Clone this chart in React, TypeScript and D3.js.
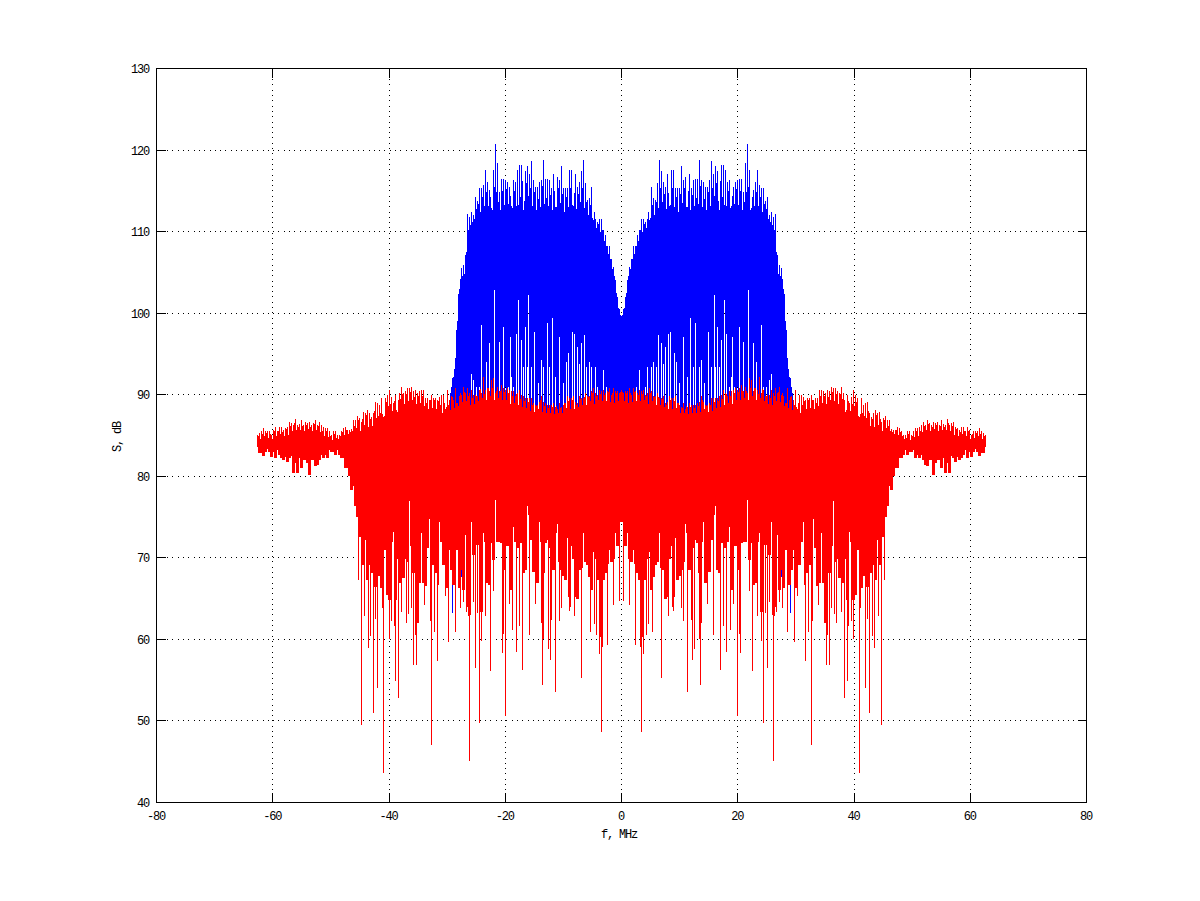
import React from "react";
import * as d3 from "d3";

const W = 1200;
const H = 901;
const xTicks = [-80, -60, -40, -20, 0, 20, 40, 60, 80];
const yTicks = [40, 50, 60, 70, 80, 90, 100, 110, 120, 130];

// Spectrum is mirror-symmetric about 0 MHz: values are read for the negative-frequency side.
const redStartMHz = -62.7;
const redTop = [
  85.05,85.35,85.5,85.9,85.6,85.6,85.6,85.05,85.7,86.1,85.6,86.1,86.1,85.7,85.9,86.1,86.6,86.5,86.3,87,86.3,86.4,86.9,86.3,86.7,86.5,86.7,86.3,86.5,86.9,86.3,86.7,86.3,86.1,85.9,85.9,85.6,85.05,85.5,85.5,85.05,85.05,85.5,85.9,86.1,85.7,85.7,85.8,86.9,86.9,87.4,87.1,86.7,87.9,87.7,88.1,87.7,87.3,87.7,89.15,88.95,88.75,89.55,87.3,89.55,90,90.6,89.75,88.95,90,87.9,90.15,91,90.15,90.4,90.8,90.8,91,90.4,90.6,90.15,90.4,90.6,90.6,89.55,89.55,89.35,90,89.55,89.55,89.35,89.75,
  90,90,88.3,90.6,89.35,89.8,89.35,90.8,88.95,89.8,90,91,90.2,90.8,90.2,90.6,90,90,89.8,90.6,90.2,92.2,90.6,90.8,90.4,91.8,92,90.2,91,90.4,91.2,90.8,90.6,90.8,90.6,90.4,90.4,89.8,90.2,90.6,90,89.8,89.6,89.6,89.6,89.6,88.95,88.7,88.7,89.15,89.8,89.15,88.95,88.7,88.7,88.7,88.95,88.5,88.3,88.95,88.5,88.7,88.95,89.8,89.6,89.6,89.8,89.15,88.95,89.8,89.6,89.6,90.2,89.8,89.8,90.4,90.8,90.2,90,90.6,90.4,90.6,90.2,90.4,90.8,90,90.8,90.4,90.4,90.2,90.6,
];
// Red peaks of the columns lying between the entries of redTop
const redTopBetween = [
  84.9,84.6,85.2,84.9,85.3,84.7,85.2,84.6,85.5,84.9,85.6,85.2,85.4,84.9,85.8,85.1,86.2,85.6,86.5,85.7,86.1,85.7,86.2,85.6,86.3,85.8,86,85.5,86.4,85.7,86.2,85.4,85.6,85,85.5,84.8,85,84.5,85.2,84.7,84.6,84.9,85.4,85.1,85.7,85.2,85.4,85.6,86.2,85.9,86.9,85.5,87,86.3,87.5,86.1,87,86.2,88,87.2,87.4,87.7,87.6,87.4,89.1,88.6,88.9,88,89.2,88.1,89.4,89.5,90.1,88.9,90.1,89.2,90.3,89.4,89.7,88.9,89.8,89,89.9,88.6,89,88.2,89.4,88.4,89.3,88.3,89.2,
  88.7,87.8,89,88.5,88.8,88.1,89.7,88.4,89,88.6,90.2,89.1,90.3,89.2,89.9,88.8,89.6,88.9,89.9,89.2,90.7,89.6,90.1,89.3,90.8,89.9,90.8,89.4,90.4,89.6,90.5,89.4,90.3,89.3,90.2,88.9,89.8,89,90.1,88.8,89.5,88.5,89.2,88.4,89.1,88,88.7,87.9,88.6,88.3,89.3,87.9,88.6,87.7,88.4,87.8,88.5,87.6,88.6,87.7,88.4,87.8,89,88.4,89.2,88.3,89.4,88.2,88.7,88.5,89.5,88.8,89.7,88.7,89.7,89.2,90.2,88.9,89.9,89.3,90.1,89.2,90,89.2,90.3,89.1,90.2,89,90.2,89.2,90.3,
];
const redLow = [
  83.6,82.8,82.9,82.5,83,83.3,83,82.4,83,82.3,83.2,82.6,82.2,82,82.4,81.8,82.3,82.5,80.45,81.6,80.45,82.2,81,82,82,81.6,80.15,82,82,81.2,81.4,82,82.6,82.2,82.6,82.2,83.2,83,83,82.6,83.2,82.6,82.2,82.2,81,81,80,78.3,78.75,
  76.3,75.05,72.6,74.8,69.1,72.2,67.3,69.1,68.1,75.25,66.4,69.5,67.8,66.25,73.6,70.95,65.4,64.85,72,73.2,64.85,69.9,66.9,72.4,67.5,69.9,69.5,77,71.4,68.1,74.2,62,66.9,73,66.9,66.5,71.15,74.8,70.15,69.1,68.1,73.8,74.4,72,69.1,71.8,66.25,70.95,68.5,66.7,73.2,70.95,66.25,68.5,66,72.8,64,63,74.4,70.35,71.6,74.4,71.6,63.4,73,72,66.9,66.7,71.8,69.7,77.1,72,72,71.8,68.5,71.8,71.4,73.8,66,73.8,72,71.15,71.8,71.8,68.1,68.5,76.4,75.25,72.2,68.3,70.75,66.9,74.4,72,68.1,71.8,72.2,71.15,72.8,68.5,73,74.2,69.5,68.5,67.8,67.3,72.4,64,71.4,69.9,65.2,65,68.5,68.7,73,69.5,69.1,67.7,66,70.75,69.9,67.3,73,60.3,67.3,68.1,69.3,70.95,69.5,69.9,73,71.4,74.4,74.4,
];
// Deep single-sample nulls of the red trace: [|f| MHz, dB]
const redNulls: [number, number][] = [
  [45.3,67.3],[44.8,49.5],[44.15,62.9],[43.6,59],[43.2,60.4],[42.7,51],[42.3,62.5],[41.9,54.1],[41.2,63.9],[41,43.65],[40.5,65.4],[40,60.1],[39.6,62.2],[39,61.6],[38.8,54.9],[38.4,52.85],[37.9,63.4],[37,62.05],[36.7,63.1],[36.2,63.9],[35.8,56.8],[35.5,60.5],[35.3,56.8],[33.9,64.2],[32.9,62.2],[32.7,47.05],[32.2,60.95],[31.7,57.35],[31.4,66.7],[30.2,65.3],[29.8,59.7],[28.6,60.95],[27.75,63.9],[27.2,64.6],[26.7,63.3],[26.4,62.9],[26.2,45.1],[25.5,64.6],[25.2,56.5],[24.8,63.2],[24.5,49.8],[24.1,59.8],[23.45,62.9],[22.6,56.1],[22.1,65.9],[20.5,58.3],[20.35,60.7],[20,50.65],[19.3,64.3],[18.8,61.15],[18.1,58.4],[17.6,61.6],[17.1,56.25],[15.9,60.5],[14.85,64.4],[13.8,62],[13.65,54.4],[13.5,60.1],[12.6,58.8],[12.3,57.5],[12.1,62.4],[11.4,53.6],[10.7,62.3],[10.4,63.9],[9.2,65.15],[9,63.5],[8.15,62.9],[6.95,55.3],[5.4,60.95],[4.7,61.85],[4.35,60.5],[3.85,58.2],[3.5,48.7],[3.3,59.1],[2.45,59.3],[1.4,64.2],[0.4,64.75],
];

const blueStartMHz = -29.5;
const blueTop = [
  90.2,92,93.2,97.9,102.4,105.3,105.5,105.9,107.1,112.2,111.8,112.4,112,114.3,114.7,115.3,115.3,115.7,117.6,116.1,115.1,115.3,117.6,120.8,118.4,114.9,116.5,116.5,116.3,116.1,115.5,116.3,116.3,116.1,117.6,118.2,118.2,118.4,117.4,118,117.1,118.6,116.3,115.5,115.5,116.1,116.3,118.8,116.5,116.5,116.3,115.3,117.1,115.5,116.7,116.3,118,115.3,115.3,115.3,117.6,117.6,115.5,117.1,115.5,116.1,117.4,118.8,115.9,113.9,114.1,115.5,114.1,111.6,111.2,111.6,111.6,110.2,109.6,108.2,108.2,106.7,105.7,104.1,102,100.5,99.6,
];
// Blue peaks of the columns lying between the entries of blueTop
const blueTopBetween = [
  91,92.2,94.5,99,103,104.2,104.6,104.8,107.5,110.2,110.8,111.2,111.5,112.8,113.4,112.4,114.3,113.2,114.9,113.1,114.2,112.7,115.5,114.8,113.6,112.6,115,113.3,115.2,113.4,114.4,112.9,115,113.2,115.8,114.2,116.2,113.7,116,114.4,115.4,113.1,114.8,112.7,114.6,113,115.6,113.4,115.2,113.2,114.5,112.6,115,113,115.3,113.5,114.6,112.4,114.2,113,115.4,113.3,114.7,112.8,114.6,113.6,115.4,112.9,113.6,112,113.3,111.7,112.4,110.4,110.9,110,110.2,108.9,108.2,107.2,106.6,105.4,104.6,102.5,100.6,99.8,
];
const blueFloor = 78;
// Columns where the blue trace never comes down to the floor: [|f| MHz, lowest dB]
const blueGaps: [number, number][] = [
  [25.83,92.6],[25.5,91.8],[24.1,98.6],[23.25,94.05],[22.7,96.3],[21.9,102.8],[21,96.5],[20.3,98.35],[19.1,97.1],[18.95,92.2],[18.1,97.5],[17.75,101.6],[17.2,96.7],[16.55,98.35],[16,102.2],[15,97.7],[13.8,94.25],[12.75,98.75],[11.9,99.4],[10.7,97.1],[9.5,94.05],[9.15,95.1],[8.45,97.7],[8.1,97.5],[7.6,95.9],[6.9,96.3],[6.4,97.3],[5.5,94.05],[4.5,93.45],[3.1,93],
  [24.9,91],[24.45,91],[20,91],[19.45,91],[18.6,91],[16.9,93.4],[16.2,93.4],[15.45,93.4],[14.3,91.4],[13.45,93.4],[12.4,93.4],[11.4,92.2],[10,91.4],[8.8,92.6],[7.25,93.8],[6.05,93.4],[5.2,93.4],[4.15,91],[2.55,91],
];
// Columns whose blue peak falls short: [|f| MHz, highest dB]
const blueNotches: [number, number][] = [
  [22.4,112.9],[24.8,113.7],[19,113.1],[17.75,113.3],[16.9,112.7],[14.3,114],[12.85,114.1],[11.4,113],[8.3,113.1],[4.9,111.4],
];
// Blue samples that reach below the red body: [|f| MHz, lowest dB]
const blueBelow: [number, number][] = [[29.1,63.2],[27.6,67.6],[8.8,67.9]];

const x = d3.scaleLinear().domain([-80, 80]).range([156.5, 1086.5]);
const y = d3.scaleLinear().domain([40, 130]).range([802.5, 68.5]);
const centerPx = Math.floor(x(0));

const distance = (f: number) => centerPx - Math.floor(x(-Math.abs(f)));
const toMap = (rows: [number, number][]) => new Map(rows.map(([f, v]) => [distance(f), v]));

type Pick = (d: number, i: number, between: boolean) => number;

function columns(startMHz: number, count: number, lows: Pick, top: Pick) {
  const path = d3.path();
  const step = -startMHz / (count - 1);
  const maxD = distance(startMHz);
  for (let d = 0; d <= maxD; d++) {
    const f = x.invert(centerPx + 0.5 - d);
    const half = Math.max(0, Math.min((count - 1) * 2, Math.round(((f - startMHz) / step) * 2)));
    const i = Math.floor(half / 2);
    const between = half % 2 === 1;
    const hi = y(top(d, i, between));
    const lo = y(lows(d, i, between));
    for (const px of d === 0 ? [centerPx] : [centerPx - d, centerPx + d]) {
      path.moveTo(px + 0.5, hi);
      path.lineTo(px + 0.5, lo);
    }
  }
  return path.toString();
}

const redNullMap = toMap(redNulls);
const gapMap = toMap(blueGaps);
const notchMap = toMap(blueNotches);
const belowMap = toMap(blueBelow);

const lowAt = (i: number) => redLow[Math.min(i, redLow.length - 1)];
const redPath = columns(
  redStartMHz,
  redTop.length,
  (d, i, between) =>
    redNullMap.get(d) ?? (between ? Math.min(lowAt(i), lowAt(i + 1)) : lowAt(i)),
  (_d, i, between) => (between ? redTopBetween[i] ?? redTop[i] : redTop[i])
);
const bluePath = columns(
  blueStartMHz,
  blueTop.length,
  (d) => belowMap.get(d) ?? gapMap.get(d) ?? blueFloor,
  (d, i, between) =>
    notchMap.get(d) ?? (between ? blueTopBetween[i] ?? blueTop[i] : blueTop[i])
);

const font = "'Liberation Mono', monospace";

export default function App() {
  const [x0, x1] = x.range();
  const [y0, y1] = y.range();
  return (
    <svg
      width={W}
      height={H}
      viewBox={`0 0 ${W} ${H}`}
      style={{ position: "absolute", left: 0, top: 0, background: "#fff" }}
    >
      <g stroke="#000" strokeWidth={1} strokeDasharray="1 4.3" shapeRendering="crispEdges">
        {xTicks.slice(1, -1).map((t) => (
          <line key={t} x1={x(t)} x2={x(t)} y1={y1} y2={y0} />
        ))}
        {yTicks.slice(1, -1).map((t) => (
          <line key={t} x1={x0} x2={x1} y1={y(t)} y2={y(t)} />
        ))}
      </g>
      <path d={bluePath} stroke="#0000ff" strokeWidth={1} fill="none" shapeRendering="crispEdges" />
      <path d={redPath} stroke="#ff0000" strokeWidth={1} fill="none" shapeRendering="crispEdges" />
      <g stroke="#000" strokeWidth={1} shapeRendering="crispEdges">
        <rect x={x0} y={y1} width={x1 - x0} height={y0 - y1} fill="none" />
        {xTicks.slice(1, -1).map((t) => (
          <g key={t}>
            <line x1={x(t)} x2={x(t)} y1={y0} y2={y0 - 10} />
            <line x1={x(t)} x2={x(t)} y1={y1} y2={y1 + 9} />
          </g>
        ))}
        {yTicks.slice(1, -1).map((t) => (
          <g key={t}>
            <line x1={x0} x2={x0 + 9} y1={y(t)} y2={y(t)} />
            <line x1={x1} x2={x1 - 9} y1={y(t)} y2={y(t)} />
          </g>
        ))}
      </g>
      <g fontFamily={font} fontSize={12} letterSpacing={-1.2} fill="#000">
        {xTicks.map((t) => (
          <text key={t} x={x(t) - 0.5} y={820} textAnchor="middle">
            {t}
          </text>
        ))}
        {yTicks.map((t) => (
          <text key={t} x={149} y={y(t) + 4.5} textAnchor="end">
            {t}
          </text>
        ))}
        <text x={619} y={838} textAnchor="middle">f, MHz</text>
        <text transform="translate(121,437) rotate(-90)" textAnchor="middle">S, dB</text>
      </g>
    </svg>
  );
}
